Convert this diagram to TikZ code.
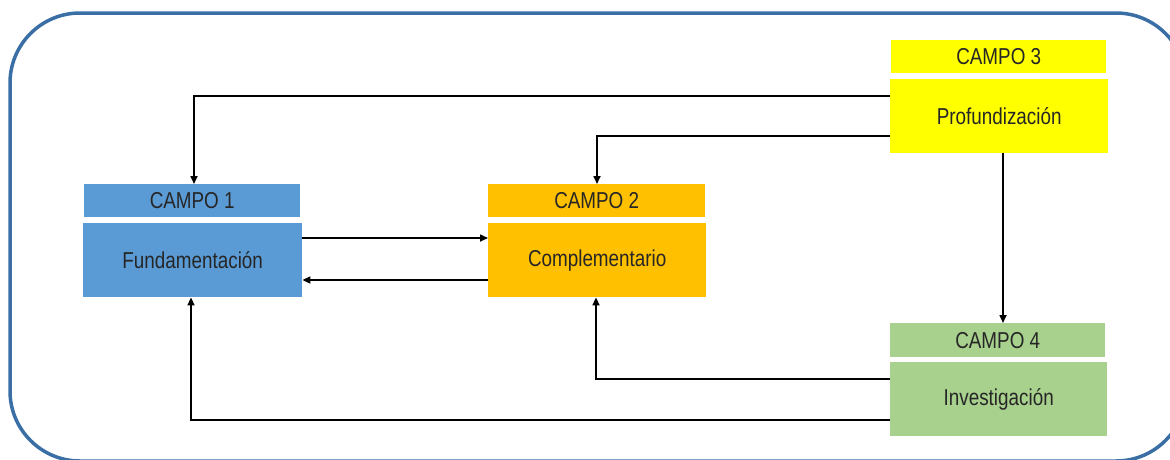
\documentclass[tikz,border=0pt]{standalone}
\usepackage{fontspec}
\setmainfont[FakeStretch=0.82]{Liberation Sans}
\usetikzlibrary{arrows.meta}
\definecolor{frameblue}{HTML}{3A6FA6}
\definecolor{cblue}{HTML}{5B9BD5}
\definecolor{corange}{HTML}{FFC000}
\definecolor{cyellow}{HTML}{FFFF00}
\definecolor{cgreen}{HTML}{A9D18E}
\definecolor{txt}{HTML}{262626}
\tikzset{
  hdr/.style={anchor=north west, inner sep=0pt, text=txt, font=\fontsize{23}{26}\selectfont},
  body/.style={anchor=north west, inner sep=0pt, text=txt, font=\fontsize{23}{26}\selectfont},
  conn/.style={line width=1.6pt, black, -{Triangle[length=8pt,width=7pt]}},
}
\begin{document}
\begin{tikzpicture}[x=1pt,y=-1pt]
\useasboundingbox (0,0) rectangle (1170,459);
\draw[frameblue, line width=3.5pt, rounded corners=70pt] (10,13) rectangle (1186,461);
% Campo 1
\node[hdr, fill=cblue, minimum width=216pt, minimum height=33pt] (h1) at (84,184) {CAMPO 1};
\node[body, fill=cblue, minimum width=219pt, minimum height=74pt] (b1) at (83,223) {Fundamentación};
% Campo 2
\node[hdr, fill=corange, minimum width=217pt, minimum height=33pt] (h2) at (488,184) {CAMPO 2};
\node[body, fill=corange, minimum width=218pt, minimum height=74pt] (b2) at (488,223) {Complementario};
% Campo 3
\node[hdr, fill=cyellow, minimum width=215pt, minimum height=33pt] (h3) at (891,40) {CAMPO 3};
\node[body, fill=cyellow, minimum width=218pt, minimum height=74pt] (b3) at (890,79) {Profundización};
% Campo 4
\node[hdr, fill=cgreen, minimum width=215pt, minimum height=34pt] (h4) at (890,323) {CAMPO 4};
\node[body, fill=cgreen, minimum width=217pt, minimum height=74pt] (b4) at (890,362) {Investigación};
% connectors
\coordinate (c31) at (194,96);
\coordinate (c32) at (597,136);
\coordinate (c42) at (596,379);
\coordinate (c41) at (191,420);
\draw[conn] (b3.west |- c31) -- (c31) -- (c31 |- h1.north);
\draw[conn] (b3.west |- c32) -- (c32) -- (c32 |- h2.north);
\draw[conn] (b3.south -| 1003,0) -- (h4.north -| 1003,0);
\draw[conn] (b1.east |- 0,238) -- (b2.west |- 0,238);
\draw[conn] (b2.west |- 0,280) -- (b1.east |- 0,280);
\draw[conn] (b4.west |- c42) -- (c42) -- (c42 |- b2.south);
\draw[conn] (b4.west |- c41) -- (c41) -- (c41 |- b1.south);
\end{tikzpicture}
\end{document}
